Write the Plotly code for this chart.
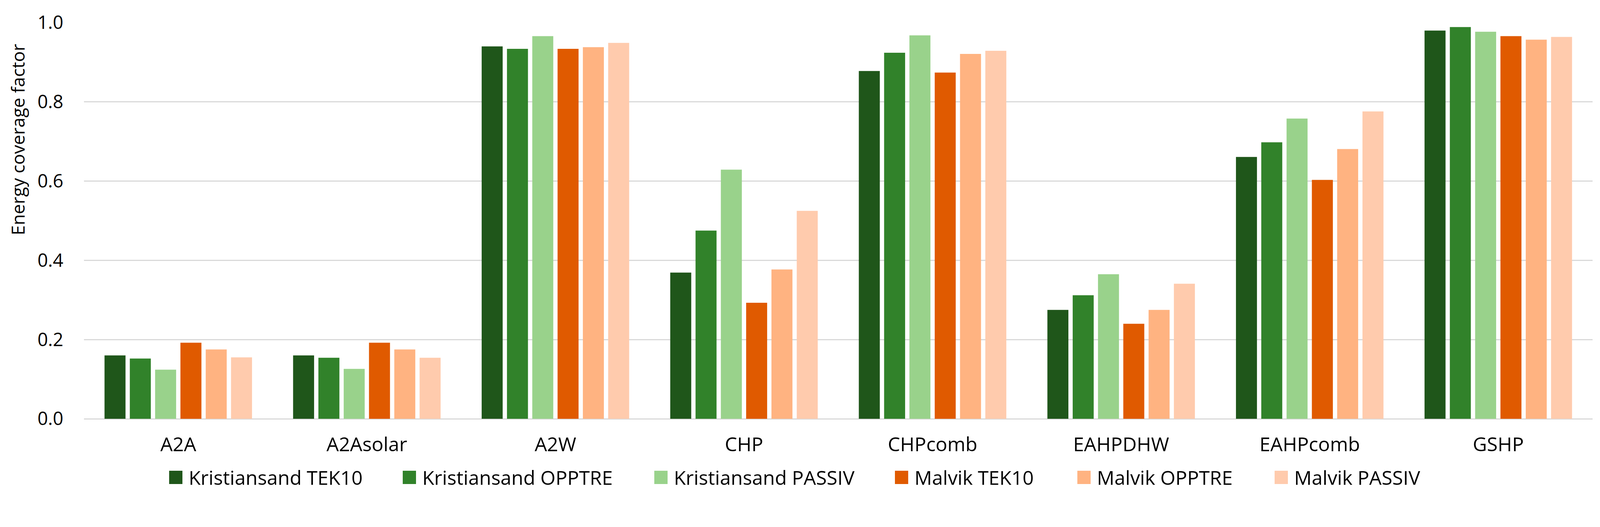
import plotly.graph_objects as go

categories = ["A2A", "A2Asolar", "A2W", "CHP", "CHPcomb", "EAHPDHW", "EAHPcomb", "GSHP"]
series_names = ["Kristiansand TEK10", "Kristiansand OPPTRE", "Kristiansand PASSIV",
                "Malvik TEK10", "Malvik OPPTRE", "Malvik PASSIV"]
kristiansand_tek10 = [0.160, 0.160, 0.940, 0.369, 0.878, 0.275, 0.661, 0.980]
kristiansand_opptre = [0.152, 0.154, 0.934, 0.475, 0.924, 0.312, 0.698, 0.989]
kristiansand_passiv = [0.124, 0.126, 0.966, 0.629, 0.968, 0.365, 0.758, 0.977]
malvik_tek10 = [0.192, 0.192, 0.934, 0.293, 0.874, 0.240, 0.603, 0.966]
malvik_opptre = [0.175, 0.175, 0.938, 0.377, 0.921, 0.275, 0.681, 0.957]
malvik_passiv = [0.155, 0.154, 0.949, 0.525, 0.929, 0.341, 0.776, 0.964]
y_ticks = [0.0, 0.2, 0.4, 0.6, 0.8, 1.0]
y_title = "Energy coverage factor"

colors = ["#1F561A", "#31822A", "#99D28B", "#E05A00", "#FFB381", "#FFCBAD"]
all_values = [kristiansand_tek10, kristiansand_opptre, kristiansand_passiv,
              malvik_tek10, malvik_opptre, malvik_passiv]

FONT = "Open Sans, Noto Sans, sans-serif"

# figure geometry (px)
W, H = 4080, 1256
ML, MR, MT, MB = 207, 11, 50, 192
PW, PH = W - ML - MR, H - MT - MB

# legend layout (px in figure, left edge of each swatch)
legend_left_px = [425, 1023, 1667, 2283, 2750, 3255]
legend_center_px = 1214
swatch_px = 34
text_gap_px = 48

fig = go.Figure()
for name, vals, col in zip(series_names, all_values, colors):
    fig.add_trace(go.Bar(x=categories, y=vals, name=name, marker_color=col,
                         marker_line_width=0, showlegend=False))

shapes = []
annotations = []
yc = (H - MB - legend_center_px) / PH
half = swatch_px / 2 / PH
for name, col, lx in zip(series_names, colors, legend_left_px):
    x0 = (lx - ML) / PW
    x1 = (lx + swatch_px - ML) / PW
    shapes.append(dict(type="rect", xref="paper", yref="paper",
                       x0=x0, x1=x1, y0=yc - half, y1=yc + half,
                       fillcolor=col, line=dict(width=0), layer="above"))
    annotations.append(dict(text=name, xref="paper", yref="paper",
                            x=(lx + text_gap_px - ML) / PW, y=yc,
                            xanchor="left", yanchor="middle", showarrow=False,
                            font=dict(family=FONT, size=50, color="#000000")))

# y-axis title (sits above centre, as in the original)
annotations.append(dict(text=y_title, xref="paper", yref="paper",
                        x=(37 - ML) / PW, y=0.705, textangle=-90,
                        xanchor="center", yanchor="middle", showarrow=False,
                        font=dict(family=FONT, size=46, color="#000000")))

fig.update_layout(
    width=W, height=H,
    paper_bgcolor="white", plot_bgcolor="white",
    barmode="group", bargap=0.195, bargroupgap=0.17,
    margin=dict(l=ML, r=MR, t=MT, b=MB, autoexpand=False),
    font=dict(family=FONT, size=47, color="#000000"),
    showlegend=False,
    shapes=shapes, annotations=annotations,
)
fig.update_xaxes(
    showgrid=False, showline=False, zeroline=False,
    ticks="", ticklabelstandoff=32,
    tickfont=dict(family=FONT, size=50, color="#000000"),
)
fig.update_yaxes(
    range=[0, 1.0], tickvals=y_ticks, ticktext=[f"{v:.1f}" for v in y_ticks],
    showgrid=True, gridcolor="#D9D9D9", gridwidth=3,
    zeroline=True, zerolinecolor="#D9D9D9", zerolinewidth=3,
    showline=False, ticks="", ticklabelstandoff=52,
    tickfont=dict(family=FONT, size=47, color="#000000"),
)

fig.write_html("out.html")
